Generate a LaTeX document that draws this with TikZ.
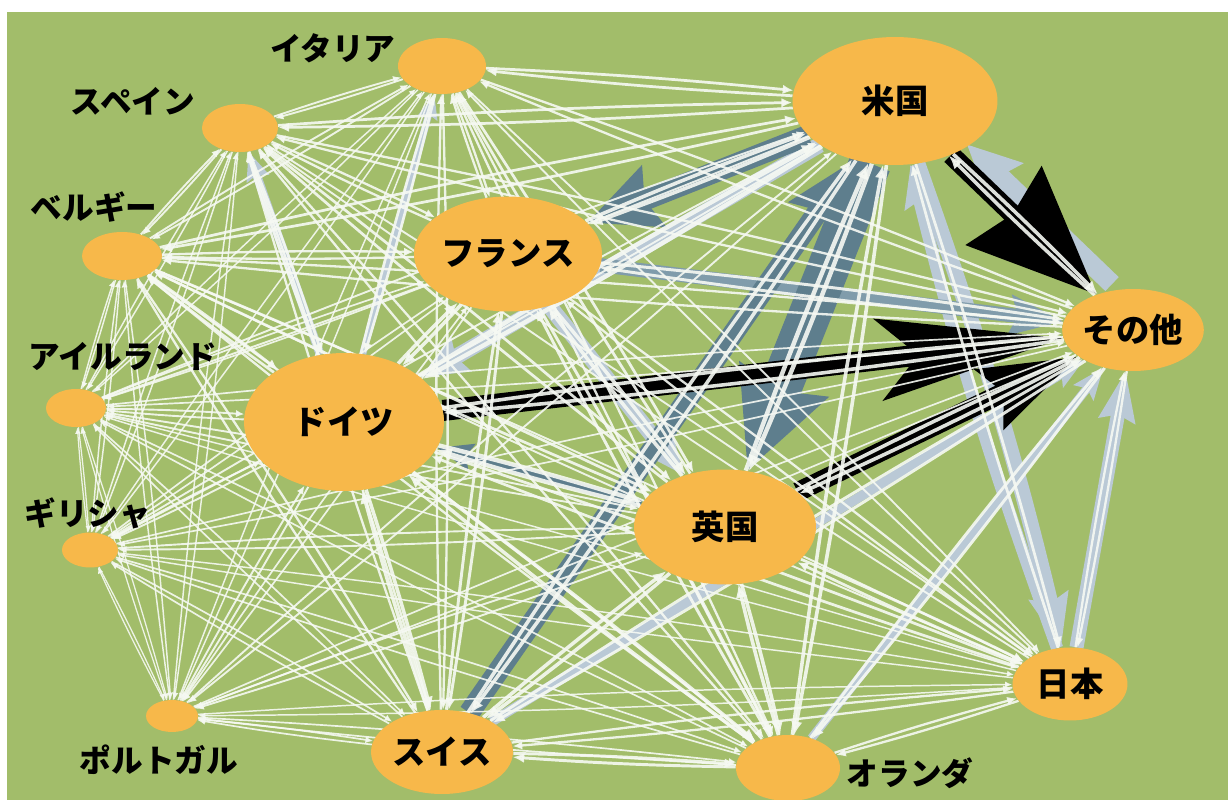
\documentclass[tikz,border=0pt]{standalone}
\usepackage{fontspec}
\newfontfamily\jp{Noto Sans CJK JP}
\usetikzlibrary{shapes.geometric,arrows.meta}
\pgfdeclarelayer{bg}
\pgfdeclarelayer{edges}
\pgfsetlayers{bg,edges,main}
\definecolor{bggreen}{RGB}{162,189,106}
\definecolor{nodeor}{RGB}{247,184,74}
\definecolor{lightbl}{RGB}{186,201,214}
\definecolor{midbl}{RGB}{128,156,171}
\definecolor{darkbl}{RGB}{94,126,141}
\definecolor{edgewh}{RGB}{246,249,243}
\begin{document}
\begin{tikzpicture}[x=0.02cm,y=-0.02cm,
  cnode/.style={ellipse,fill=nodeor,inner sep=0pt,font=\jp\bfseries\fontsize{19}{22}\selectfont},
  lbl/.style={inner sep=0pt,font=\jp\bfseries\fontsize{18}{21}\selectfont},
  wedge/.style={draw=edgewh,opacity=0.9,-{Latex[length=1.5pt 3,width=1.5pt 2.5]}},
  flow/.style={line cap=butt}
]
\useasboundingbox (0,0) rectangle (1228,800);
\begin{pgfonlayer}{bg}
  \fill[white] (0,0) rectangle (1228,800);
  \fill[bggreen] (7,12) rectangle (1228,800);
\end{pgfonlayer}

% country nodes
\node[cnode,minimum width=4.1cm,minimum height=2.56cm] (us) at (895,101) {米国};
\node[cnode,minimum width=3.54cm,minimum height=2.3cm] (fr) at (508,254) {フランス};
\node[cnode,minimum width=4.0cm,minimum height=2.76cm] (de) at (344,422) {ドイツ};
\node[cnode,minimum width=3.64cm,minimum height=2.3cm] (uk) at (725,527) {英国};
\node[cnode,minimum width=2.66cm,minimum height=1.64cm] (ot) at (1133,330) {その他};
\node[cnode,minimum width=2.3cm,minimum height=1.46cm] (jp) at (1070,684) {日本};
\node[cnode,minimum width=2.84cm,minimum height=1.68cm] (ch) at (442,752) {スイス};
\node[cnode,minimum width=2.08cm,minimum height=1.32cm] (nl) at (788,768) {};
\node[cnode,minimum width=1.76cm,minimum height=1.12cm] (it) at (442,66) {};
\node[cnode,minimum width=1.52cm,minimum height=0.96cm] (es) at (240,128) {};
\node[cnode,minimum width=1.6cm,minimum height=0.96cm] (be) at (122,256) {};
\node[cnode,minimum width=1.2cm,minimum height=0.76cm] (ie) at (76,408) {};
\node[cnode,minimum width=1.12cm,minimum height=0.7cm] (gr) at (90,550) {};
\node[cnode,minimum width=1.04cm,minimum height=0.64cm] (pt) at (172,716) {};

% outside labels
\node[lbl] (itl) at (333,48) {イタリア};
\node[lbl] (esl) at (133,101) {スペイン};
\node[lbl] (bel) at (94,207) {ベルギー};
\node[lbl] (iel) at (123,357) {アイルランド};
\node[lbl] (grl) at (88,513) {ギリシャ};
\node[lbl] (ptl) at (159,760) {ポルトガル};
\node[lbl] (nll) at (910,773) {オランダ};

\begin{pgfonlayer}{edges}
  % light blue-grey flows
  \draw[flow,draw=lightbl,line width=11pt,-{Stealth[length=30pt,width=28pt,inset=4pt]},transform canvas={xshift=9pt,yshift=6pt}] (ot) -- (us);
  \draw[flow,draw=lightbl,line width=9pt,-{Stealth[length=30pt,width=22pt,inset=4pt]}] (us) to[bend left=3] (jp);
  \draw[flow,draw=lightbl,line width=7pt,-{Stealth[length=24pt,width=18pt,inset=3pt]}] (jp) to[bend left=3] (us);
  \draw[flow,draw=lightbl,line width=8pt,-{Stealth[length=28pt,width=20pt,inset=3pt]}] (jp) -- (ot);
  \draw[flow,draw=lightbl,line width=5pt,-{Stealth[length=18pt,width=14pt,inset=3pt]}] (nl) -- (ot);
  \draw[flow,draw=lightbl,line width=5.5pt,-{Stealth[length=18pt,width=14pt,inset=3pt]}] (ch) -- (ot);
  \draw[flow,draw=lightbl,line width=9pt,-{Stealth[length=24pt,width=20pt,inset=3pt]}] (fr) -- (uk);
  \draw[flow,draw=lightbl,line width=9pt,-{Stealth[length=26pt,width=22pt,inset=3pt]}] (us) -- (de);
  \draw[flow,draw=lightbl,line width=5pt,-{Stealth[length=16pt,width=13pt,inset=2pt]}] (de) -- (es);
  \draw[flow,draw=lightbl,line width=4pt,-{Stealth[length=14pt,width=11pt,inset=2pt]}] (de) -- (it);
  % mid / dark blue-grey flows
  \draw[flow,draw=midbl,line width=8pt,-{Stealth[length=30pt,width=22pt,inset=4pt]}] (fr) -- (ot);
  \draw[flow,draw=darkbl,line width=5pt,-{Stealth[length=20pt,width=15pt,inset=3pt]}] (uk) -- (de);
  \draw[flow,draw=darkbl,line width=12pt,-{Stealth[length=40pt,width=32pt,inset=5pt]}] (ch) -- (us);
  \draw[flow,draw=darkbl,line width=12pt,-{Stealth[length=40pt,width=36pt,inset=5pt]}] (us) -- (fr);
  \draw[flow,draw=darkbl,line width=24pt,-{Stealth[length=55pt,width=52pt,inset=6pt]}] (us) -- (uk);
  % black flows
  \draw[flow,draw=black,line width=11pt,-{Stealth[length=72pt,width=60pt,inset=6pt]}] (us) -- (ot);
  \draw[flow,draw=black,line width=12pt,-{Stealth[length=105pt,width=46pt,inset=22pt]}] (de) -- (ot);
  \draw[flow,draw=black,line width=11pt,-{Stealth[length=55pt,width=36pt,inset=8pt]}] (uk) -- (ot);
  % white flows between every pair of countries
  \foreach \a/\wa [count=\i] in {us/4,de/4,uk/4,fr/3,ot/3,ch/3,nl/3,jp/2,it/2,es/2,be/2,ie/1,gr/1,pt/1}{
    \foreach \b/\wb [count=\j] in {us/4,de/4,uk/4,fr/3,ot/3,ch/3,nl/3,jp/2,it/2,es/2,be/2,ie/1,gr/1,pt/1}{
      \ifnum\i=\j\relax\else
        \pgfmathsetmacro\lw{0.6+0.12*\wa*\wb}
        \draw[wedge,line width=\lw pt] (\a) to[bend left=1.5] (\b);
      \fi
    }
  }
\end{pgfonlayer}
\end{tikzpicture}
\end{document}
